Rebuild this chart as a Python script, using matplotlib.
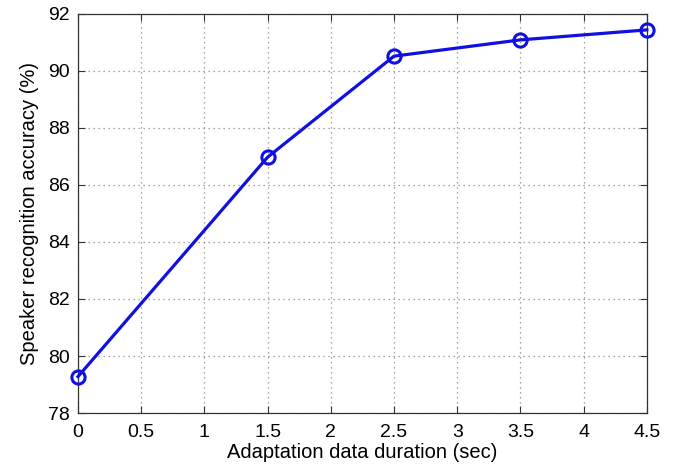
import matplotlib
matplotlib.use("Agg")
import matplotlib.pyplot as plt

plt.rcParams['font.family'] = ['Liberation Sans', 'DejaVu Sans']

# 数据
duration = [0, 1.5, 2.5, 3.5, 4.5]
accuracy = [79.28, 86.97, 90.51, 91.08, 91.43]
x_ticks = [0, 0.5, 1, 1.5, 2, 2.5, 3, 3.5, 4, 4.5]
y_ticks = [78, 80, 82, 84, 86, 88, 90, 92]

fig = plt.figure(figsize=(6.78, 4.70), dpi=100)
ax = fig.add_axes([0.115, 0.121, 0.839, 0.850])

ax.plot(duration, accuracy, color='#1010e0', linewidth=2.3, marker='o',
        markersize=9.5, markerfacecolor='none', markeredgewidth=2.2,
        markeredgecolor='#1010e0', clip_on=False, zorder=3)

ax.set_xlim(0, 4.5)
ax.set_ylim(78, 92)
ax.set_xticks(x_ticks)
ax.set_xticklabels(['0', '0.5', '1', '1.5', '2', '2.5', '3', '3.5', '4', '4.5'])
ax.set_yticks(y_ticks)
ax.grid(True, linestyle=(0, (1, 3)), color='#888888', linewidth=0.9)
ax.tick_params(direction='in', length=5, labelsize=14, color='#333333')
ax.tick_params(axis='x', pad=8)
ax.tick_params(axis='y', pad=6)
ax.tick_params(top=True, right=True)
for s in ax.spines.values():
    s.set_color('#333333')
    s.set_linewidth(0.9)

ax.set_xlabel('Adaptation data duration (sec)', fontsize=14.5, labelpad=1)
ax.set_ylabel('Speaker recognition accuracy (%)', fontsize=14.5, labelpad=6)

fig.savefig('out.png', dpi=100)
